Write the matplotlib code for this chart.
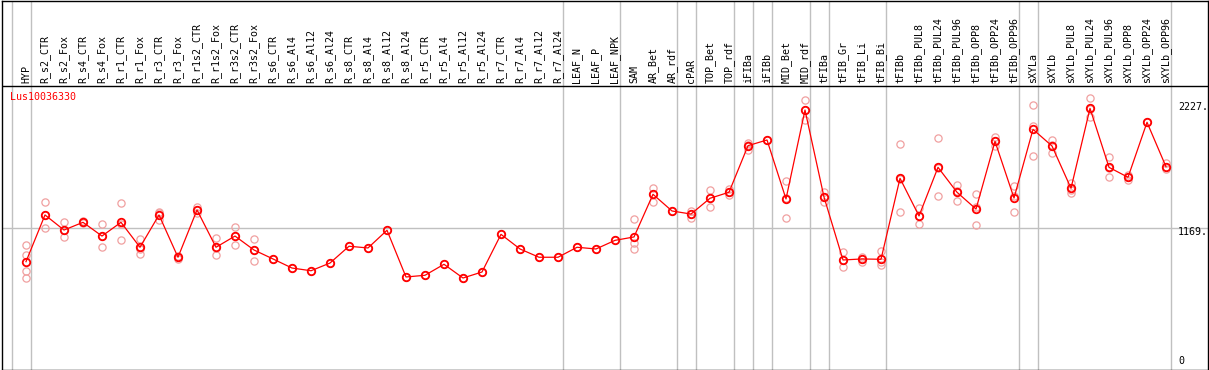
import matplotlib
import matplotlib.pyplot as plt
import matplotlib.transforms as mtransforms

matplotlib.use("Agg")

GENE = "Lus10036330"

SAMPLES = [
    "HYP", "R_s2_CTR", "R_s2_Fox", "R_s4_CTR", "R_s4_Fox", "R_r1_CTR",
    "R_r1_Fox", "R_r3_CTR", "R_r3_Fox", "R_r1s2_CTR", "R_r1s2_Fox",
    "R_r3s2_CTR", "R_r3s2_Fox", "R_s6_CTR", "R_s6_Al4", "R_s6_Al12",
    "R_s6_Al24", "R_s8_CTR", "R_s8_Al4", "R_s8_Al12", "R_s8_Al24",
    "R_r5_CTR", "R_r5_Al4", "R_r5_Al12", "R_r5_Al24", "R_r7_CTR",
    "R_r7_Al4", "R_r7_Al12", "R_r7_Al24", "LEAF_N", "LEAF_P", "LEAF_NPK",
    "SAM", "AR_Bet", "AR_rdf", "cPAR", "TOP_Bet", "TOP_rdf", "iFIBa",
    "iFIBb", "MID_Bet", "MID_rdf", "tFIBa", "tFIB_Gr", "tFIB_Li",
    "tFIB_Bi", "tFIBb", "tFIBb_PUL8", "tFIBb_PUL24", "tFIBb_PUL96",
    "tFIBb_OPP8", "tFIBb_OPP24", "tFIBb_OPP96", "sXYLa", "sXYLb",
    "sXYLb_PUL8", "sXYLb_PUL24", "sXYLb_PUL96", "sXYLb_OPP8",
    "sXYLb_OPP24", "sXYLb_OPP96",
]

MEANS = [
    875, 1287, 1154, 1222, 1101, 1222, 1002, 1287, 914, 1331, 1002, 1101,
    978, 899, 819, 795, 863, 1011, 996, 1152, 740, 755, 852, 731, 784,
    1116, 987, 914, 914, 1002, 987, 1063, 1093, 1469, 1322, 1295, 1434,
    1487, 1898, 1948, 1428, 2212, 1445, 890, 899, 896, 1610, 1278, 1707,
    1487, 1339, 1936, 1436, 2042, 1895, 1522, 2227, 1707, 1619, 2104, 1712,
]

REPLICATES = [
    [1022, 934, 793, 734], [1399, 1287, 1169], [1222, 1154, 1090],
    [1230, 1222, 1214], [1207, 1101, 1002], [1392, 1207, 1066],
    [1072, 990, 943], [1316, 1304, 1242], [925, 914, 901],
    [1354, 1331, 1307], [1081, 996, 931], [1181, 1104, 1019],
    [1072, 981, 881], [899], [819], [795], [863], [1011], [996], [1152],
    [740], [755], [852], [731], [784], [1116], [987], [914], [914],
    [1002], [987], [1063], [1249, 1037, 984], [1527, 1472, 1404], [1322],
    [1324, 1298, 1263], [1507, 1439, 1354], [1513, 1487, 1463],
    [1924, 1908, 1860], [1948], [1586, 1439, 1257], [2301, 2212, 2124],
    [1492, 1441, 1404], [958, 887, 825], [919, 899, 875], [969, 873, 846],
    [1913, 1607, 1310], [1346, 1280, 1207], [1963, 1701, 1457],
    [1551, 1496, 1413], [1469, 1354, 1196], [1977, 1935, 1898],
    [1545, 1454, 1310], [2257, 2071, 1804], [1948, 1908, 1831],
    [1571, 1511, 1483], [2316, 2217, 2148], [1795, 1703, 1624],
    [1639, 1621, 1595], [2104], [1742, 1707, 1690],
]

# index of the last sample in each group (-1 = border before first group)
GROUP_ENDS = [-1, 0, 28, 31, 34, 35, 37, 38, 39, 41, 42, 45, 52, 53, 60]

SCALE_VALUES = [0, 1169, 2227]
SCALE_LABELS = ["0", "1169.", "2227."]

RED = "#ff0000"
PALE = "#f0a0a0"
GREY = "#c0c0c0"
MONO = "DejaVu Sans Mono"

fig = plt.figure(figsize=(12.09, 3.70), dpi=100)
ax = fig.add_axes([1.5 / 1209, 0.5 / 370, 1206.5 / 1209, 369 / 370])

x = list(range(len(SAMPLES)))

# group separators and reference line
for g in GROUP_ENDS:
    ax.axvline(g + 0.25, color=GREY, lw=1.0, zorder=1)
ax.axhline(SCALE_VALUES[1], color=GREY, lw=1.0, zorder=1)

# header separator
header_y = 2428
ax.axhline(header_y, color="black", lw=1.0, zorder=3)

# replicates
for i, reps in enumerate(REPLICATES):
    ax.plot([i] * len(reps), reps, linestyle="none", marker="o",
            markersize=5.2, mfc="none", mec=PALE, mew=0.9, zorder=2)

# means
ax.plot(x, MEANS, color=RED, lw=0.9, marker="o", markersize=5.4,
        mfc="none", mec=RED, mew=1.3, zorder=4)

# sample labels
for i, name in enumerate(SAMPLES):
    ax.text(i, header_y + 22, name, rotation=90, ha="center", va="bottom",
            family=MONO, fontsize=7.2, color="black")

ax.text(-0.84, 2323, GENE, ha="left", va="center", family=MONO,
        fontsize=7.2, color=RED)

# scale labels at the right
offsets = {0: 0, 1169: -4, 2227: 1}
for val, lab in zip(SCALE_VALUES, SCALE_LABELS):
    tr = mtransforms.offset_copy(ax.transData, fig=fig, x=0,
                                 y=offsets[val], units="dots")
    ax.text(60.63, val, lab, ha="left", va="center", family=MONO,
            fontsize=7.2, color="black", transform=tr, clip_on=True)

ax.set_xlim(-1.289, 62.21)
ax.set_ylim(-75.8, 3178)
ax.set_xticks([])
ax.set_yticks([])
for sp in ax.spines.values():
    sp.set_linewidth(1.0)
    sp.set_color("black")

fig.savefig("out.png", dpi=100)
